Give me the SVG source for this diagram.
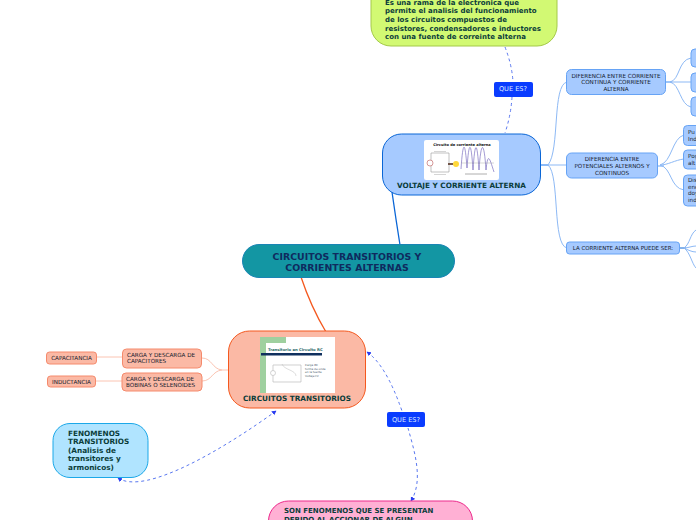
<svg xmlns="http://www.w3.org/2000/svg" width="696" height="520" viewBox="0 0 696 520">
<style>
text{font-family:"DejaVu Sans",Verdana,sans-serif;fill:#0b3d3a}
.b{font-weight:bold;font-size:7.3px}
.d{font-weight:bold;font-size:7px}
.s{font-size:5.65px;fill:#14202e;text-anchor:middle}
.sl{font-size:5.65px;fill:#14202e}
.blue{fill:#a6caff;stroke:#66a3f5;stroke-width:1}
.sal{fill:#fbb9a5;stroke:#f58a6c;stroke-width:1}
.lb{fill:none;stroke:#8db9f5;stroke-width:1}
.ls{fill:none;stroke:#fbc4b2;stroke-width:1}
.dash{fill:none;stroke:#5a78f0;stroke-width:1;stroke-dasharray:3 3}
.tag{fill:#0a3cff}
.tagt{font-size:6.6px;fill:#dfe8ff;text-anchor:middle}
.tiny{font-size:2.8px;fill:#456}
</style>
<defs>
<marker id="a" markerWidth="6" markerHeight="6" refX="4" refY="2.500" orient="auto-start-reverse" markerUnits="userSpaceOnUse"><path d="M0 0L4.500 2.500L0 5Z" fill="#2a3cf0"/></marker>
</defs>
<g id="connectors">
<path d="M392 192Q396 220 400 245" fill="none" stroke="#0a66d6" stroke-width="1.3"/>
<path d="M301 277Q311 307 326 332" fill="none" stroke="#f4581e" stroke-width="1.3"/>
<path class="dash" d="M505 47Q512 65 513 82"/>
<path class="dash" d="M512 97Q511 115 505 133"/>
<path class="dash" d="M367 352Q386 365 402 411" marker-start="url(#a)"/>
<path class="dash" d="M408 428C414 450 424 480 411 501" marker-end="url(#a)"/>
<path class="dash" d="M276 411C225 448 145 496 118 478" marker-start="url(#a)" marker-end="url(#a)"/>
<path d="M541 165H548" fill="none" stroke="#66a3f5" stroke-width="1.5"/>
<path class="lb" d="M548 165C560 150 552 85 567 82"/>
<path class="lb" d="M548 165H567"/>
<path class="lb" d="M548 165C560 175 552 245 567 248"/>
<path d="M665 82H672" fill="none" stroke="#3f8cf0" stroke-width="1"/>
<path class="lb" d="M670 82C680 80 678 60 691 58"/>
<path class="lb" d="M670 82H691"/>
<path class="lb" d="M670 82C680 84 680 105 691 107"/>
<path d="M658 166H664" fill="none" stroke="#66a3f5" stroke-width="1"/>
<path class="lb" d="M660 165C672 162 672 138 684 135"/>
<path class="lb" d="M660 165C668 165 675 160 684 159"/>
<path class="lb" d="M660 165C672 168 670 188 684 190"/>
<path d="M680 248H686" fill="none" stroke="#0a66d6" stroke-width="1"/>
<path class="lb" d="M684 248C690 244 690 234 696 230"/>
<path class="lb" d="M684 248C688 248 692 246 696 246"/>
<path class="lb" d="M684 248C688 250 692 252 696 252"/>
<path class="lb" d="M684 248C690 252 692 264 696 268"/>
<path class="ls" d="M97 357H123"/>
<path class="ls" d="M96 381H122"/>
<path class="ls" d="M202 358C212 358 212 369 222 370C212 371 212 381 202 381"/>
<path class="ls" d="M222 370H229"/>
</g>
<g id="root"><rect x="242.500" y="244.500" width="212" height="33" rx="16.500" fill="#1396a3" stroke="#1a85b5"/>
<text x="347" y="259.500" text-anchor="middle" style="font-weight:bold;font-size:9.4px;fill:#0f2a5e">CIRCUITOS TRANSITORIOS Y</text>
<text x="347" y="270.500" text-anchor="middle" style="font-weight:bold;font-size:9.4px;fill:#0f2a5e">CORRIENTES ALTERNAS</text></g>
<g id="voltaje"><rect x="382.500" y="134" width="158" height="61" rx="19" fill="#a6caff" stroke="#0a66d6" stroke-width="1"/>
<rect x="424" y="140" width="75" height="40" rx="2" fill="#fff"/>
<text x="462" y="146" text-anchor="middle" style="font-size:3.6px;font-weight:bold;fill:#111">Circuito de corriente alterna</text>
<path d="M431 153H449V172H431Z" fill="none" stroke="#999" stroke-width=".6"/>
<path d="M434 151.500H446M434 174.500H446" stroke="#aaa" stroke-width=".5" fill="none"/>
<circle cx="430" cy="163" r="3" fill="#fff" stroke="#b55" stroke-width=".6"/>
<circle cx="456" cy="164" r="3" fill="#ffd83a"/>
<path d="M448 164L453 164" stroke="#532" stroke-width="1.6"/>
<path d="M461 169C463 140 465 140 467 168C469 140 471 140 473 170C475 140 477 140 479 170C481 140 484 140 486 170C488 150 490 160 494 172" fill="none" stroke="#7b6fc0" stroke-width=".7"/>
<path d="M461 163H494" stroke="#999" stroke-width=".4"/>
<path d="M465 174H487" stroke="#999" stroke-width=".8"/>
<text x="461.500" y="188" text-anchor="middle" class="b">VOLTAJE Y CORRIENTE ALTERNA</text></g>
<g id="def"><rect x="371" y="-30" width="186" height="76" rx="20" fill="#d2f973" stroke="#a4c94a"/>
<text x="385" y="5" class="d">Es una rama de la electronica que</text>
<text x="385" y="13.400" class="d">permite el analisis del funcionamiento</text>
<text x="385" y="22" class="d">de los circuitos compuestos de</text>
<text x="385" y="30.700" class="d">resistores, condensadores e inductores</text>
<text x="385" y="39.400" class="d">con una fuente de correinte alterna</text></g>
<g id="q1"><rect x="494" y="82" width="39" height="15" rx="2" class="tag"/><text x="513" y="91" class="tagt">QUE ES?</text></g>
<g id="q2"><rect x="387" y="412" width="38" height="15" rx="2" class="tag"/><text x="406" y="422" class="tagt">QUE ES?</text></g>
<g id="dif1"><rect x="566.500" y="69.500" width="99" height="25" rx="5" class="blue"/>
<text x="616" y="77.500" class="s">DIFERENCIA ENTRE CORRIENTE</text><text x="616" y="84" class="s">CONTINUA Y CORRIENTE</text><text x="616" y="91" class="s">ALTERNA</text></g>
<g id="dif2"><rect x="566.500" y="153" width="91" height="25" rx="5" class="blue"/>
<text x="612" y="161" class="s">DIFERENCIA ENTRE</text><text x="612" y="168" class="s">POTENCIALES ALTERNOS Y</text><text x="612" y="174.500" class="s">CONTINUOS</text></g>
<g id="dif3"><rect x="566.500" y="242" width="113" height="12" rx="3" class="blue"/><text x="623" y="250" class="s" style="font-size:5.45px">LA CORRIENTE ALTERNA PUEDE SER:</text></g>
<g id="r1"><rect x="691" y="49" width="20" height="18" rx="4" class="blue"/></g>
<g id="r2"><rect x="691" y="73" width="20" height="19" rx="4" class="blue"/></g>
<g id="r3"><rect x="691" y="97" width="20" height="19" rx="4" class="blue"/></g>
<g id="r4"><rect x="683.500" y="125.500" width="30" height="20" rx="4" class="blue"/><text x="688" y="134" class="sl">Pu</text><text x="688" y="141" class="sl">Ind</text></g>
<g id="r5"><rect x="683.500" y="150" width="30" height="19" rx="4" class="blue"/><text x="688" y="158" class="sl">Pog</text><text x="688" y="165" class="sl">alt</text></g>
<g id="r6"><rect x="683.500" y="175" width="30" height="31" rx="4" class="blue"/><text x="688" y="182" class="sl">Dis</text><text x="688" y="188.500" class="sl">ene</text><text x="688" y="195" class="sl">doy</text><text x="688" y="202" class="sl">ind</text></g>
<g id="trans"><rect x="228.500" y="331" width="137" height="77" rx="21" fill="#fbb9a5" stroke="#f4581e"/>
<rect x="260" y="337" width="75" height="56" fill="#fff"/><path d="M260 337H286V343H266V393H260Z" fill="#9fd09f"/>
<text x="268" y="351" style="font-size:3.8px;font-weight:bold;fill:#2a6a6a">Transitorio en Circuito RC</text>
<rect x="261" y="353" width="61" height="2.500" fill="#10305e"/>
<path d="M273 365H301V382H273Z" fill="none" stroke="#bbb" stroke-width=".7"/><circle cx="273" cy="373" r="2.500" fill="#fff" stroke="#aaa" stroke-width=".5"/>
<path d="M282 364C284 370 296 370 296 376" fill="none" stroke="#bbb" stroke-width=".5"/>
<text x="305" y="366" class="tiny">Carga RC</text><text x="305" y="369.500" class="tiny">forma de onda</text><text x="305" y="373" class="tiny">en la fuente</text><text x="305" y="376.500" class="tiny">Voltaje=V</text>
<text x="297" y="401" text-anchor="middle" class="b">CIRCUITOS TRANSITORIOS</text></g>
<g id="c1"><rect x="122.500" y="349" width="79" height="19" rx="4" class="sal"/><text x="127" y="356.500" class="sl">CARGA Y DESCARGA DE</text><text x="127" y="363" class="sl">CAPACITORES</text></g>
<g id="c2"><rect x="122" y="373" width="80" height="18" rx="4" class="sal"/><text x="126" y="381" class="sl">CARGA Y DESCARGA DE</text><text x="126" y="387" class="sl">BOBINAS O SELENOIDES</text></g>
<g id="cap"><rect x="46.500" y="352" width="50" height="12" rx="3" class="sal"/><text x="71.500" y="360" class="s">CAPACITANCIA</text></g>
<g id="ind"><rect x="47.500" y="376" width="48" height="11" rx="3" class="sal"/><text x="71.500" y="384" class="s">INDUCTANCIA</text></g>
<g id="fen"><rect x="53" y="423.500" width="95" height="54" rx="17" fill="#b0e4ff" stroke="#1ba8e8"/>
<text x="68" y="436.400" class="b">FENOMENOS</text><text x="68" y="444.400" class="b">TRANSITORIOS</text><text x="68" y="453.400" class="b">(Analisis de</text><text x="68" y="461.400" class="b">transitores y</text><text x="68" y="470" class="b">armonicos)</text></g>
<g id="son"><rect x="268.500" y="501" width="204" height="60" rx="20" fill="#ffb0d4" stroke="#ec2a8c"/>
<text x="284" y="513" class="d">SON FENOMENOS QUE SE PRESENTAN</text><text x="284" y="522" class="d">DEBIDO AL ACCIONAR DE ALGUN</text></g>
</svg>
